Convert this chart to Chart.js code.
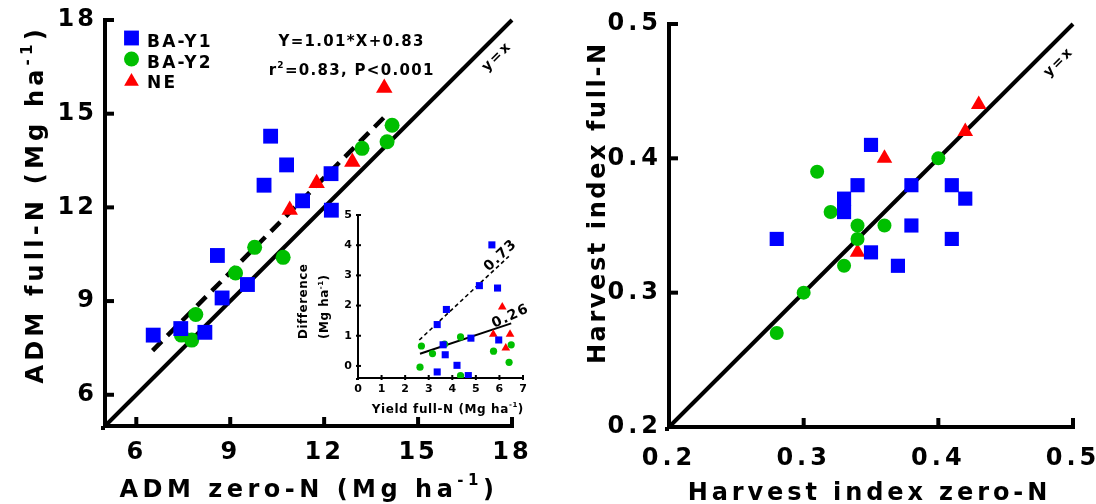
<!DOCTYPE html>
<html>
<head>
<meta charset="utf-8">
<script src="https://cdn.jsdelivr.net/npm/chart.js@4/dist/chart.umd.min.js"></script>
<style>
  html, body { margin: 0; padding: 0; background: #fff; width: 1096px; height: 504px; overflow: hidden; }
  canvas { position: absolute; }
  #adm  { left: 0;     top: 0; }
  #hi   { left: 540px; top: 0; }
  #diff { left: 280px; top: 200px; }
</style>
</head>
<body>
<canvas id="adm" width="540" height="504"></canvas>
<canvas id="hi" width="556" height="504"></canvas>
<canvas id="diff" width="260" height="230"></canvas>
<script>
// ---------- series ----------
const seriesNames = ['BA-Y1', 'BA-Y2', 'NE'];

// Above-ground dry matter (Mg ha-1): zero-N vs full-N
const admY1Zero = [6.54, 7.42, 8.19, 8.74, 8.59, 9.55, 10.08, 10.29, 10.80, 11.31, 12.22, 12.23];
const admY1Full = [7.91, 8.12, 8.00, 9.10, 10.46, 9.53, 12.71, 14.28, 13.36, 12.21, 13.08, 11.91];
const admY2Zero = [7.44, 7.77, 7.90, 9.17, 9.78, 10.69, 13.21, 14.01, 14.17];
const admY2Full = [7.91, 7.75, 8.57, 9.90, 10.72, 10.40, 13.89, 14.10, 14.63];
const admNEZero = [10.90, 11.76, 12.90, 13.92];
const admNEFull = [11.92, 12.77, 13.45, 15.82];
const admRange = [5, 18];
const admTickValues = [6, 9, 12, 15, 18];
const admTickLabels = ['6', '9', '12', '15', '18'];
const admFitSlope = 1.01;
const admFitIntercept = 0.83;
const admFitXRange = [6.52, 14.06];

// Harvest index: zero-N vs full-N
const hiY1Zero = [0.28, 0.35, 0.34, 0.33, 0.33, 0.35, 0.37, 0.38, 0.38, 0.41, 0.42, 0.41];
const hiY1Full = [0.34, 0.41, 0.38, 0.37, 0.36, 0.33, 0.32, 0.38, 0.35, 0.38, 0.37, 0.34];
const hiY2Zero = [0.28, 0.30, 0.31, 0.32, 0.33, 0.34, 0.34, 0.36, 0.40];
const hiY2Full = [0.27, 0.30, 0.39, 0.36, 0.32, 0.35, 0.34, 0.35, 0.40];
const hiNEZero = [0.34, 0.36, 0.42, 0.43];
const hiNEFull = [0.33, 0.40, 0.42, 0.44];
const hiRange = [0.2, 0.5];
const hiTickValues = [0.2, 0.3, 0.4, 0.5];
const hiTickLabels = ['0.2', '0.3', '0.4', '0.5'];

// Inset: full-N minus zero-N difference vs grain yield full-N
const difY1Yield = [3.36, 3.36, 3.75, 3.61, 3.70, 4.20, 4.68, 4.79, 5.15, 5.68, 5.92, 5.97];
const difY1Diff  = [-0.20, 1.37, 1.87, 0.70, 0.37, 0.02, -0.32, 0.92, 2.66, 4.01, 2.58, 0.86];
const difY2Yield = [2.69, 2.63, 3.16, 3.67, 4.35, 4.35, 5.75, 6.50, 6.41];
const difY2Diff  = [0.66, -0.04, 0.41, 0.72, 0.96, -0.32, 0.49, 0.70, 0.12];
const difNEYield = [5.74, 6.12, 6.27, 6.45];
const difNEDiff  = [1.05, 1.95, 0.59, 1.05];
const difXRange = [0, 7];
const difYRange = [-0.4, 5];
const difXTicks = [0, 1, 2, 3, 4, 5, 6, 7];
const difYTicks = [0, 1, 2, 3, 4, 5];
const difTrendY1 = { slope: 0.73, intercept: -1.04, from: 2.6, to: 6.4, label: '0.73' };
const difTrendAll = { slope: 0.26, intercept: -0.28, from: 2.63, to: 6.5, label: '0.26' };

// ---------- styling ----------
const FAMILY = 'DejaVu Sans';
const BLUE = '#0000ff', GREEN = '#00bf00', RED = '#ff0000';
const styles = [
  { pointStyle: 'rect', color: BLUE },
  { pointStyle: 'circle', color: GREEN },
  { pointStyle: 'triangle', color: RED }
];

const pts = (xs, ys) => xs.map((x, i) => ({ x, y: ys[i] }));
const lineFrom = (a, b) => [{ x: a, y: a }, { x: b, y: b }];
const trendPts = t => [{ x: t.from, y: t.slope * t.from + t.intercept }, { x: t.to, y: t.slope * t.to + t.intercept }];

function pointSet(i, data, radius) {
  return {
    label: seriesNames[i], data,
    pointStyle: styles[i].pointStyle, pointRadius: radius[i],
    backgroundColor: styles[i].color, borderColor: styles[i].color,
    pointBorderWidth: 0, borderWidth: 0, order: i
  };
}
function lineSet(data, width, dash) {
  return {
    label: '', data, showLine: true, pointRadius: 0,
    borderColor: '#000', borderWidth: width, borderDash: dash || [],
    fill: false, order: 10, clip: false
  };
}

// letter spacing for everything the library writes on a canvas
const spacingPlugin = {
  id: 'spacing',
  beforeUpdate(chart, a, o) { chart.ctx.letterSpacing = o.value; },
  beforeDraw(chart, a, o) { chart.ctx.letterSpacing = o.value; }
};

// short tick marks pointing into the plot area
function innerTicks(chart, xVals, yVals, len, width) {
  const ctx = chart.ctx;
  const area = chart.chartArea;
  const sx = chart.scales.x, sy = chart.scales.y;
  ctx.save();
  ctx.setLineDash([]);
  ctx.globalAlpha = 1;
  ctx.globalCompositeOperation = 'source-over';
  ctx.fillStyle = '#000000';
  xVals.forEach(v => {
    const p = sx.getPixelForValue(v);
    ctx.fillRect(p - width / 2, area.bottom - len, width, len + 2);
  });
  yVals.forEach(v => {
    const p = sy.getPixelForValue(v);
    ctx.fillRect(area.left - 2, p - width / 2, len + 2, width);
  });
  // close the corner where the two axis lines meet
  ctx.fillRect(area.left - width, area.bottom, width, width);
  ctx.restore();
}

// text with optional superscript pieces: parts = [[text, isSup], ...]
function drawRich(ctx, parts, x, y, o) {
  ctx.save();
  ctx.translate(x, y);
  if (o.rotate) ctx.rotate(o.rotate);
  ctx.fillStyle = '#000';
  ctx.textBaseline = o.baseline || 'alphabetic';
  ctx.textAlign = 'left';
  ctx.letterSpacing = o.spacing + 'px';
  const supSize = Math.round(o.size * 0.62);
  const fonts = parts.map(p => `bold ${p[1] ? supSize : o.size}px "${FAMILY}"`);
  const widths = parts.map((p, i) => { ctx.font = fonts[i]; return ctx.measureText(p[0]).width; });
  const total = widths.reduce((a, b) => a + b, 0) - o.spacing;
  let cx = o.align === 'center' ? -total / 2 : 0;
  parts.forEach((p, i) => {
    ctx.font = fonts[i];
    ctx.fillText(p[0], cx, p[1] ? -o.size * 0.48 : 0);
    cx += widths[i];
  });
  ctx.restore();
}

function fixedScale(kind, size, ticks, labels, tickOpts, borderWidth) {
  return {
    type: 'linear',
    afterBuildTicks: s => { s.ticks = ticks.map(v => ({ value: v })); },
    afterFit: s => {
      s.paddingLeft = s.paddingRight = s.paddingTop = s.paddingBottom = 0;
      if (kind === 'x') s.height = size; else s.width = size;
    },
    grid: { display: false, drawTicks: false },
    border: { display: true, width: borderWidth, color: '#000' },
    ticks: Object.assign({
      color: '#000', autoSkip: false, maxRotation: 0, minRotation: 0,
      callback: (v, i) => labels[i]
    }, tickOpts)
  };
}

const tickFont = { family: FAMILY, size: 24, weight: 'bold' };

// ---------- ADM panel ----------
new Chart(document.getElementById('adm'), {
  type: 'scatter',
  data: {
    datasets: [
      pointSet(0, pts(admY1Zero, admY1Full), [10.5, 7.5, 9.5]),
      pointSet(1, pts(admY2Zero, admY2Full), [10.5, 7.5, 9.5]),
      pointSet(2, pts(admNEZero, admNEFull), [10.5, 7.5, 9.5]),
      lineSet(trendPts({ slope: admFitSlope, intercept: admFitIntercept, from: admFitXRange[0], to: admFitXRange[1] }), 4.5, [13, 8]),
      lineSet(lineFrom(admRange[0], admRange[1]), 4)
    ]
  },
  options: {
    responsive: false, animation: false, devicePixelRatio: 1,
    layout: { padding: { top: 20, right: 28, left: 0, bottom: 0 } },
    plugins: { legend: { display: false }, tooltip: { enabled: false }, spacing: { value: '3px' } },
    scales: {
      x: Object.assign(fixedScale('x', 78, admTickValues, admTickLabels, { font: tickFont, padding: 12 }, 4), { min: admRange[0], max: admRange[1] }),
      y: Object.assign(fixedScale('y', 105, admTickValues, admTickLabels, { font: tickFont, padding: 8 }, 4), { min: admRange[0], max: admRange[1] })
    }
  },
  plugins: [spacingPlugin, {
    id: 'admDecor',
    afterDraw(chart) {
      const ctx = chart.ctx, sx = chart.scales.x, sy = chart.scales.y;
      innerTicks(chart, admTickValues, admTickValues, 9, 4);
      drawRich(ctx, [['ADM zero-N (Mg ha', 0], ['-1', 1], [')', 0]], 306.7, 497, { size: 24, spacing: 4.5, align: 'center' });
      drawRich(ctx, [['ADM full-N (Mg ha', 0], ['-1', 1], [')', 0]], 43.3, 206.5, { size: 24, spacing: 4.2, align: 'center', rotate: -Math.PI / 2 });
      // legend
      const rows = [38, 59, 79.5];
      chart.data.datasets.slice(0, 3).forEach((d, i) => {
        ctx.save();
        ctx.fillStyle = d.backgroundColor;
        const r = i === 2 ? 8.5 : d.pointRadius;
        Chart.helpers.drawPoint(ctx, { pointStyle: d.pointStyle, radius: r, borderWidth: 0, rotation: 0 }, 131.5, i === 2 ? rows[i] + 2 : rows[i]);
        ctx.restore();
        drawRich(ctx, [[d.label, 0]], 147, rows[i] + 8.5, { size: 17, spacing: 2.2 });
      });
      // regression statement
      drawRich(ctx, [['Y=1.01*X+0.83', 0]], 351, 46, { size: 15, spacing: 1.3, align: 'center' });
      drawRich(ctx, [['r', 0], ['2', 1], ['=0.83, P<0.001', 0]], 351, 75, { size: 15, spacing: 1.3, align: 'center' });
      drawRich(ctx, [['y=x', 0]], sx.getPixelForValue(17.5), sy.getPixelForValue(16.8), { size: 14, spacing: 2, align: 'center', rotate: -Math.PI / 4, baseline: 'middle' });
    }
  }]
});

// ---------- harvest index panel ----------
new Chart(document.getElementById('hi'), {
  type: 'scatter',
  data: {
    datasets: [
      pointSet(0, pts(hiY1Zero, hiY1Full), [10, 7, 9]),
      pointSet(1, pts(hiY2Zero, hiY2Full), [10, 7, 9]),
      pointSet(2, pts(hiNEZero, hiNEFull), [10, 7, 9]),
      lineSet(lineFrom(hiRange[0], hiRange[1]), 4)
    ]
  },
  options: {
    responsive: false, animation: false, devicePixelRatio: 1,
    layout: { padding: { top: 24, right: 23, left: 0, bottom: 0 } },
    plugins: { legend: { display: false }, tooltip: { enabled: false }, spacing: { value: '4px' } },
    scales: {
      x: Object.assign(fixedScale('x', 77, hiTickValues, hiTickLabels, { font: tickFont, padding: 17 }, 4), { min: hiRange[0], max: hiRange[1] }),
      y: Object.assign(fixedScale('y', 129, hiTickValues, hiTickLabels, { font: tickFont, padding: 7 }, 4), { min: hiRange[0], max: hiRange[1] })
    }
  },
  plugins: [spacingPlugin, {
    id: 'hiDecor',
    afterDraw(chart) {
      const ctx = chart.ctx, sx = chart.scales.x, sy = chart.scales.y;
      innerTicks(chart, hiTickValues, hiTickValues, 9, 4);
      drawRich(ctx, [['Harvest index zero-N', 0]], 327.5, 500, { size: 24, spacing: 3.9, align: 'center' });
      drawRich(ctx, [['Harvest index full-N', 0]], 65, 204, { size: 24, spacing: 2.6, align: 'center', rotate: -Math.PI / 2 });
      drawRich(ctx, [['y=x', 0]], sx.getPixelForValue(0.489), sy.getPixelForValue(0.471), { size: 14, spacing: 2, align: 'center', rotate: -Math.PI / 4, baseline: 'middle' });
    }
  }]
});

// ---------- inset: difference vs yield ----------
new Chart(document.getElementById('diff'), {
  type: 'scatter',
  data: {
    datasets: [
      pointSet(0, pts(difY1Yield, difY1Diff), [5, 3.6, 5]),
      pointSet(1, pts(difY2Yield, difY2Diff), [5, 3.6, 5]),
      pointSet(2, pts(difNEYield, difNEDiff), [5, 3.6, 5]),
      lineSet(trendPts(difTrendY1), 1.6, [4, 3]),
      lineSet(trendPts(difTrendAll), 2)
    ]
  },
  options: {
    responsive: false, animation: false, devicePixelRatio: 1,
    layout: { padding: { top: 15, right: 17, left: 0, bottom: 0 } },
    plugins: { legend: { display: false }, tooltip: { enabled: false }, spacing: { value: '0px' } },
    scales: {
      x: Object.assign(fixedScale('x', 52, difXTicks, difXTicks.map(String), { font: { family: FAMILY, size: 11, weight: 'bold' }, padding: 5 }, 2),
        { min: difXRange[0], max: difXRange[1] }),
      y: Object.assign(fixedScale('y', 78, difYTicks, difYTicks.map(String), { font: { family: FAMILY, size: 11, weight: 'bold' }, padding: 6 }, 2),
        { min: difYRange[0], max: difYRange[1] })
    }
  },
  plugins: [spacingPlugin, {
    id: 'diffDecor',
    afterDraw(chart) {
      const ctx = chart.ctx, sx = chart.scales.x, sy = chart.scales.y;
      innerTicks(chart, difXTicks, difYTicks, 3, 2);
      drawRich(ctx, [['Yield full-N (Mg ha', 0], ['-1', 1], [')', 0]], 167.5, 212.7, { size: 12, spacing: 0.6, align: 'center' });
      drawRich(ctx, [['Difference', 0]], 26.7, 139, { size: 12, spacing: 0.5, rotate: -Math.PI / 2 });
      drawRich(ctx, [['(Mg ha', 0], ['-1', 1], [')', 0]], 48.3, 139, { size: 12, spacing: 0.5, rotate: -Math.PI / 2 });
      drawRich(ctx, [[difTrendY1.label, 0]], sx.getPixelForValue(6.03), sy.getPixelForValue(3.64), { size: 14, spacing: 1.2, align: 'center', rotate: -43 * Math.PI / 180, baseline: 'middle' });
      drawRich(ctx, [[difTrendAll.label, 0]], sx.getPixelForValue(6.45), sy.getPixelForValue(1.63), { size: 14, spacing: 1.2, align: 'center', rotate: -25 * Math.PI / 180, baseline: 'middle' });
    }
  }]
});
</script>
</body>
</html>
